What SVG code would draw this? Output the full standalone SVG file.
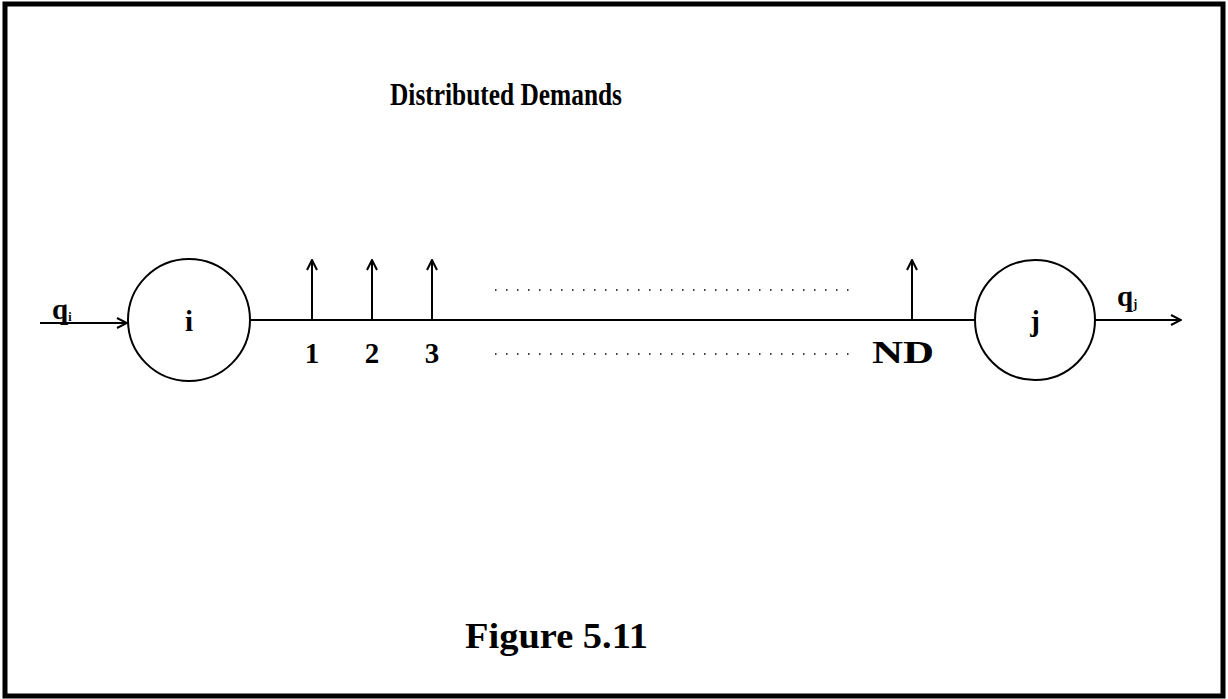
<svg xmlns="http://www.w3.org/2000/svg" width="1228" height="699" viewBox="0 0 1228 699">
<style>
.t{font-family:"Liberation Serif",serif;font-weight:bold;fill:#000}
.ln{stroke:#000;stroke-width:2;fill:none}
.dot{stroke:#000;stroke-width:1.5;stroke-dasharray:1.5 9.5;fill:none}
</style>
<defs>
<marker id="ah" viewBox="0 0 12 12" refX="11" refY="6" markerWidth="12" markerHeight="12" markerUnits="userSpaceOnUse" orient="auto">
<path d="M1,1 L11,6 L1,11" fill="none" stroke="#000" stroke-width="2"/>
</marker>
</defs>
<rect x="0" y="0" width="1228" height="699" fill="#fff"/>
<rect x="5" y="4" width="1218" height="692" fill="none" stroke="#000" stroke-width="5"/>
<text class="t" x="390" y="105" font-size="31" textLength="232" lengthAdjust="spacingAndGlyphs">Distributed  Demands</text>
<g id="connectors">
<line class="ln" x1="40" y1="323" x2="127" y2="323" marker-end="url(#ah)"/>
<line class="ln" x1="250" y1="320" x2="975" y2="320"/>
<line class="ln" x1="1095" y1="320" x2="1181" y2="320" marker-end="url(#ah)"/>
<line class="ln" x1="312" y1="320" x2="312" y2="260" marker-end="url(#ah)"/>
<line class="ln" x1="372" y1="320" x2="372" y2="260" marker-end="url(#ah)"/>
<line class="ln" x1="432" y1="320" x2="432" y2="260" marker-end="url(#ah)"/>
<line class="ln" x1="912" y1="320" x2="912" y2="260" marker-end="url(#ah)"/>
</g>
<g id="node-i">
<circle class="ln" cx="189" cy="320" r="61"/>
<text class="t" x="189" y="331" font-size="29" text-anchor="middle">i</text>
</g>
<g id="node-j">
<circle class="ln" cx="1035" cy="320" r="60"/>
<text class="t" x="1035" y="331" font-size="29" text-anchor="middle">j</text>
</g>
<g id="labels">
<text class="t" x="52" y="319" font-size="29">q<tspan font-size="12" dy="2">i</tspan></text>
<text class="t" x="1117" y="306" font-size="29">q<tspan font-size="12" dy="2">j</tspan></text>
<text class="t" x="312" y="363" font-size="29" text-anchor="middle">1</text>
<text class="t" x="372" y="363" font-size="29" text-anchor="middle">2</text>
<text class="t" x="432" y="363" font-size="29" text-anchor="middle">3</text>
<text class="t" x="872" y="363" font-size="31" textLength="62" lengthAdjust="spacingAndGlyphs">ND</text>
<line class="dot" x1="495" y1="290" x2="850" y2="290"/>
<line class="dot" x1="495" y1="354" x2="850" y2="354"/>
</g>
<text class="t" x="465" y="648" font-size="36" textLength="183" lengthAdjust="spacingAndGlyphs">Figure  5.11</text>
</svg>
